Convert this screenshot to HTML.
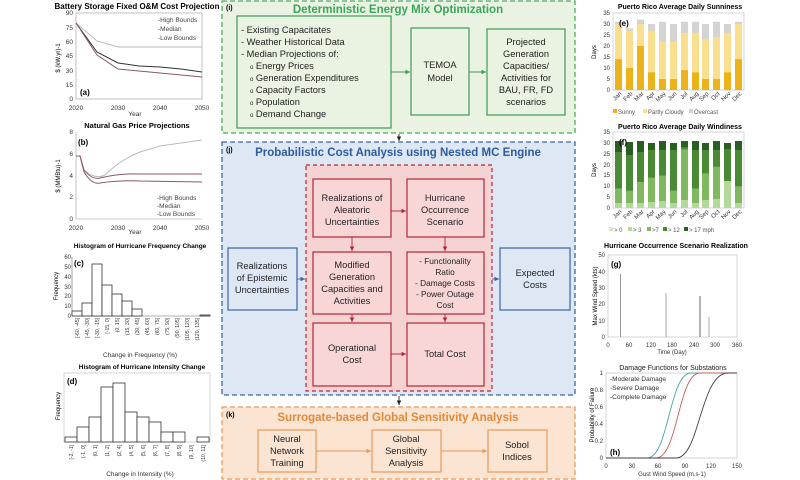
<!DOCTYPE html>
<html><head><meta charset="utf-8"><style>
html,body{margin:0;padding:0;background:#fff}
svg{display:block;font-family:"Liberation Sans",sans-serif}
</style></head><body>
<svg width="800" height="480" viewBox="0 0 800 480" xmlns="http://www.w3.org/2000/svg">
<defs><marker id="ar" markerWidth="6" markerHeight="6" refX="5" refY="3" orient="auto"><path d="M0,0.5 L5,3 L0,5.5z" fill="context-stroke"/></marker></defs>

<!-- (a) -->
<text x="137" y="9" font-size="8" font-weight="bold" text-anchor="middle">Battery Storage Fixed O&amp;M Cost Projection</text>
<rect x="76" y="13" width="126" height="86" fill="none" stroke="#999" stroke-width="0.6"/>
<g font-size="6.5" fill="#333" text-anchor="end"><text x="73" y="15">90</text><text x="73" y="30">75</text><text x="73" y="44">60</text><text x="73" y="58">45</text><text x="73" y="73">30</text><text x="73" y="87">15</text><text x="73" y="101">0</text></g>
<g font-size="6.5" fill="#333" text-anchor="middle"><text x="76" y="110">2020</text><text x="118" y="110">2030</text><text x="160" y="110">2040</text><text x="202" y="110">2050</text><text x="135" y="116">Year</text></g>
<text transform="translate(60,58) rotate(-90)" font-size="6" text-anchor="middle">$ (kW.yr)-1</text>
<polyline points="76,23 97,41 118,47 139,47 160,47 181,47 202,47" fill="none" stroke="#bbb" stroke-width="1"/>
<polyline points="76,23 97,52 118,63 139,66 160,67 181,69 202,72" fill="none" stroke="#333" stroke-width="1"/>
<polyline points="76,23 97,55 118,69 139,71 160,73 181,75 202,77" fill="none" stroke="#8a5a66" stroke-width="1"/>
<g font-size="6.5" fill="#444"><text x="158" y="22">-High Bounds</text><text x="158" y="31">-Median</text><text x="158" y="40">-Low Bounds</text></g>
<text x="80" y="95" font-size="8" font-weight="bold">(a)</text>

<!-- (b) -->
<text x="137" y="128" font-size="7.5" font-weight="bold" text-anchor="middle">Natural Gas Price Projections</text>
<line x1="76" y1="132" x2="76" y2="219" stroke="#999" stroke-width="0.6"/><line x1="76" y1="219" x2="202" y2="219" stroke="#999" stroke-width="0.6"/>
<g font-size="6.5" fill="#333" text-anchor="end"><text x="73" y="134">8</text><text x="73" y="156">6</text><text x="73" y="178">4</text><text x="73" y="199">2</text><text x="73" y="221">0</text></g>
<g font-size="6.5" fill="#333" text-anchor="middle"><text x="76" y="230">2020</text><text x="118" y="230">2030</text><text x="160" y="230">2040</text><text x="202" y="230">2050</text><text x="135" y="234">Year</text></g>
<text transform="translate(60,176) rotate(-90)" font-size="6" text-anchor="middle">$ (MMBtu)-1</text>
<path d="M76,156 L80,156 L84,170 Q95,180 105,175 Q120,160 140,152 L160,146 L202,140" fill="none" stroke="#bbb" stroke-width="1"/>
<path d="M76,156 L80,156 L84,170 Q92,180 100,178 Q120,173 140,174 L202,174" fill="none" stroke="#8a5a66" stroke-width="1"/>
<path d="M76,156 L80,156 L84,172 Q92,185 100,183 Q120,180 140,181 L202,182" fill="none" stroke="#8a5a66" stroke-width="1"/>
<g font-size="6.5" fill="#444"><text x="157" y="200">-High Bounds</text><text x="157" y="208">-Median</text><text x="157" y="216">-Low Bounds</text></g>
<text x="78" y="145" font-size="8" font-weight="bold">(b)</text>

<!-- (c) -->
<text x="140" y="248" font-size="6.5" font-weight="bold" text-anchor="middle">Histogram of Hurricane Frequency Change</text>
<line x1="72" y1="257" x2="72" y2="316" stroke="#666" stroke-width="0.6"/><line x1="72" y1="316" x2="210" y2="316" stroke="#666" stroke-width="0.6"/>
<g font-size="6" fill="#333" text-anchor="end"><text x="71" y="259">60</text><text x="71" y="269">50</text><text x="71" y="279">40</text><text x="71" y="289">30</text><text x="71" y="298">20</text><text x="71" y="308">10</text><text x="71" y="318">0</text></g>
<text transform="translate(58,286) rotate(-90)" font-size="6" text-anchor="middle">Frequency</text>
<g fill="#fff" stroke="#333" stroke-width="0.8"><rect x="72" y="311" width="10" height="5"/><rect x="82" y="303" width="10" height="13"/><rect x="92" y="264" width="10" height="52"/><rect x="102" y="285" width="10" height="31"/><rect x="112" y="294" width="10" height="22"/><rect x="122" y="301" width="10" height="15"/><rect x="132" y="309" width="10" height="7"/><rect x="200" y="315" width="10" height="1"/></g>
<text x="74" y="266" font-size="8" font-weight="bold">(c)</text>
<g font-size="5" fill="#333" text-anchor="end">
<text transform="translate(79,318) rotate(-90)">[-60, -45]</text><text transform="translate(89,318) rotate(-90)">[-45, -30]</text><text transform="translate(99,318) rotate(-90)">[-30, -15]</text><text transform="translate(109,318) rotate(-90)">[-15, 0]</text><text transform="translate(119,318) rotate(-90)">(0, 15]</text><text transform="translate(129,318) rotate(-90)">(15, 30]</text><text transform="translate(139,318) rotate(-90)">(30, 45]</text><text transform="translate(149,318) rotate(-90)">(45, 60]</text><text transform="translate(159,318) rotate(-90)">(60, 75]</text><text transform="translate(169,318) rotate(-90)">(75, 90]</text><text transform="translate(179,318) rotate(-90)">(90, 105]</text><text transform="translate(189,318) rotate(-90)">(105, 120]</text><text transform="translate(199,318) rotate(-90)">(120, 135]</text></g>
<text x="140" y="357" font-size="6.5" text-anchor="middle" fill="#333">Change in Frequency (%)</text>

<!-- (d) -->
<text x="142" y="369" font-size="6.5" font-weight="bold" text-anchor="middle">Histogram of Hurricane Intensity Change</text>
<rect x="64" y="373" width="146" height="69" fill="none" stroke="#aaa" stroke-width="0.5"/>
<text transform="translate(60,406) rotate(-90)" font-size="6" text-anchor="middle">Frequency</text>
<g fill="#fff" stroke="#333" stroke-width="0.8"><rect x="65" y="437" width="12" height="5"/><rect x="77" y="427" width="12" height="15"/><rect x="89" y="417" width="12" height="25"/><rect x="101" y="387" width="12" height="55"/><rect x="113" y="383" width="12" height="59"/><rect x="125" y="412" width="12" height="30"/><rect x="137" y="417" width="12" height="25"/><rect x="149" y="422" width="12" height="20"/><rect x="161" y="432" width="12" height="10"/><rect x="173" y="432" width="12" height="10"/><rect x="197" y="437" width="12" height="5"/></g>
<text x="67" y="384" font-size="8" font-weight="bold">(d)</text>
<g font-size="5" fill="#333" text-anchor="end">
<text transform="translate(73,445) rotate(-90)">[-2, -1]</text><text transform="translate(85,445) rotate(-90)">(-1, 0]</text><text transform="translate(97,445) rotate(-90)">(0, 1]</text><text transform="translate(109,445) rotate(-90)">(1, 2]</text><text transform="translate(121,445) rotate(-90)">(2, 4]</text><text transform="translate(133,445) rotate(-90)">(4, 5]</text><text transform="translate(145,445) rotate(-90)">(5, 6]</text><text transform="translate(157,445) rotate(-90)">(6, 7]</text><text transform="translate(169,445) rotate(-90)">(7, 8]</text><text transform="translate(181,445) rotate(-90)">(8, 9]</text><text transform="translate(193,445) rotate(-90)">(9, 10]</text><text transform="translate(205,445) rotate(-90)">(10, 11]</text></g>
<text x="140" y="476" font-size="6.5" text-anchor="middle" fill="#333">Change in Intensity (%)</text>

<!-- (i) -->
<rect x="222" y="1" width="353" height="132" fill="#eaf3e1" stroke="#4aaa5e" stroke-width="1.3" stroke-dasharray="5,3"/>
<text x="226" y="10" font-size="7" font-weight="bold">(i)</text>
<text x="398" y="13" font-size="11.5" font-weight="bold" fill="#3aa55b" text-anchor="middle">Deterministic Energy Mix Optimization</text>
<g fill="#eaf3e1" stroke="#3e9a55" stroke-width="1.2"><rect x="237" y="16" width="154" height="112"/><rect x="411" y="28" width="58" height="87"/><rect x="487" y="29" width="78" height="86"/></g>
<g font-size="9.3" fill="#222"><text x="241" y="33">-  Existing Capacitates</text><text x="241" y="45">-  Weather Historical Data</text><text x="241" y="57">-  Median Projections of:</text><text x="250" y="69"><tspan font-size="6">o</tspan> Energy Prices</text><text x="250" y="81"><tspan font-size="6">o</tspan> Generation Expenditures</text><text x="250" y="93"><tspan font-size="6">o</tspan> Capacity Factors</text><text x="250" y="105"><tspan font-size="6">o</tspan> Population</text><text x="250" y="117"><tspan font-size="6">o</tspan> Demand Change</text></g>
<g font-size="9.3" fill="#222" text-anchor="middle"><text x="440" y="68">TEMOA</text><text x="440" y="81">Model</text>
<text x="526" y="45">Projected</text><text x="526" y="57">Generation</text><text x="526" y="69">Capacities/</text><text x="526" y="81">Activities for</text><text x="526" y="93">BAU, FR, FD</text><text x="526" y="105">scenarios</text></g>
<g stroke="#3e9a55" stroke-width="0.9"><line x1="391" y1="72" x2="410" y2="72" marker-end="url(#ar)"/><line x1="469" y1="72" x2="486" y2="72" marker-end="url(#ar)"/></g>
<line x1="399" y1="134" x2="399" y2="141" stroke="#222" stroke-width="0.9" marker-end="url(#ar)"/>

<!-- (j) -->
<rect x="222" y="142" width="353" height="253" fill="#dde8f4" stroke="#3e64a0" stroke-width="1.3" stroke-dasharray="5,3"/>
<text x="226" y="152" font-size="7" font-weight="bold">(j)</text>
<text x="398" y="156" font-size="11.5" font-weight="bold" fill="#2f5c9e" text-anchor="middle">Probabilistic Cost Analysis using Nested MC Engine</text>
<rect x="306" y="165" width="186" height="226" fill="#f6d3d3" stroke="#b5243a" stroke-width="1.2" stroke-dasharray="4,3"/>
<g fill="#f9d6d6" stroke="#b5243a" stroke-width="1.2"><rect x="313" y="179" width="78" height="58"/><rect x="407" y="179" width="77" height="58"/><rect x="313" y="252" width="78" height="62"/><rect x="407" y="252" width="77" height="62"/><rect x="313" y="323" width="78" height="63"/><rect x="407" y="323" width="77" height="63"/></g>
<g fill="#dde8f4" stroke="#3e64a0" stroke-width="1.2"><rect x="228" y="248" width="69" height="62"/><rect x="500" y="248" width="70" height="62"/></g>
<g font-size="9.3" fill="#222" text-anchor="middle">
<text x="352" y="201">Realizations of</text><text x="352" y="213">Aleatoric</text><text x="352" y="225">Uncertainties</text>
<text x="445" y="201">Hurricane</text><text x="445" y="213">Occurrence</text><text x="445" y="225">Scenario</text>
<text x="352" y="268">Modified</text><text x="352" y="280">Generation</text><text x="352" y="292">Capacities and</text><text x="352" y="304">Activities</text>
<text x="445" y="264" font-size="8.3">- Functionality</text><text x="445" y="275" font-size="8.3">Ratio</text><text x="445" y="286" font-size="8.3">- Damage Costs</text><text x="445" y="297" font-size="8.3">- Power Outage</text><text x="445" y="308" font-size="8.3">Cost</text>
<text x="352" y="351">Operational</text><text x="352" y="363">Cost</text><text x="445" y="357">Total Cost</text>
<text x="262" y="269">Realizations</text><text x="262" y="281">of Epistemic</text><text x="262" y="293">Uncertainties</text>
<text x="535" y="276">Expected</text><text x="535" y="288">Costs</text></g>
<g stroke="#b5243a" stroke-width="0.9"><line x1="391" y1="211" x2="406" y2="211" marker-end="url(#ar)"/><line x1="391" y1="354" x2="406" y2="354" marker-end="url(#ar)"/><line x1="352" y1="237" x2="352" y2="251" marker-end="url(#ar)"/><line x1="445" y1="237" x2="445" y2="251" marker-end="url(#ar)"/><line x1="352" y1="314" x2="352" y2="322" marker-end="url(#ar)"/><line x1="445" y1="314" x2="445" y2="322" marker-end="url(#ar)"/></g>
<g stroke="#3e64a0" stroke-width="0.9"><line x1="297" y1="279" x2="305" y2="279" marker-end="url(#ar)"/><line x1="492" y1="279" x2="499" y2="279" marker-end="url(#ar)"/></g>
<line x1="399" y1="396" x2="399" y2="405" stroke="#222" stroke-width="0.9" marker-end="url(#ar)"/>

<!-- (k) -->
<rect x="222" y="407" width="353" height="72" fill="#fbe4d2" stroke="#e8995a" stroke-width="1.3" stroke-dasharray="5,3"/>
<text x="226" y="417" font-size="7" font-weight="bold">(k)</text>
<text x="398" y="421" font-size="11.5" font-weight="bold" fill="#e08a3a" text-anchor="middle">Surrogate-based Global Sensitivity Analysis</text>
<g fill="#fbe4d2" stroke="#e8995a" stroke-width="1.2"><rect x="258" y="430" width="58" height="42"/><rect x="372" y="430" width="69" height="42"/><rect x="488" y="430" width="59" height="42"/></g>
<g font-size="9.3" fill="#222" text-anchor="middle"><text x="287" y="442">Neural</text><text x="287" y="454">Network</text><text x="287" y="466">Training</text>
<text x="406" y="442">Global</text><text x="406" y="454">Sensitivity</text><text x="406" y="466">Analysis</text>
<text x="517" y="448">Sobol</text><text x="517" y="460">Indices</text></g>
<g stroke="#e8995a" stroke-width="0.9"><line x1="316" y1="451" x2="371" y2="451" marker-end="url(#ar)"/><line x1="441" y1="451" x2="487" y2="451" marker-end="url(#ar)"/></g>

<!-- (e) -->
<text x="680" y="9" font-size="7" font-weight="bold" text-anchor="middle">Puerto Rico Average Daily Sunniness</text>
<rect x="613" y="13" width="131" height="77" fill="none" stroke="#aaa" stroke-width="0.5"/>
<g font-size="6" fill="#333" text-anchor="end"><text x="610" y="15">35</text><text x="610" y="26">30</text><text x="610" y="37">25</text><text x="610" y="48">20</text><text x="610" y="59">15</text><text x="610" y="70">10</text><text x="610" y="81">5</text><text x="610" y="92">0</text></g>
<text transform="translate(596,52) rotate(-90)" font-size="6" text-anchor="middle">Days</text>
<g fill="#d3d3d3"><rect x="615" y="21.8" width="7" height="68.2"/><rect x="626" y="28.4" width="7" height="61.6"/><rect x="637" y="19.6" width="7" height="70.4"/><rect x="648" y="24" width="7" height="66"/><rect x="659" y="21.8" width="7" height="68.2"/><rect x="670" y="24" width="7" height="66"/><rect x="681" y="21.8" width="7" height="68.2"/><rect x="692" y="21.8" width="7" height="68.2"/><rect x="702" y="24" width="7" height="66"/><rect x="713" y="21.8" width="7" height="68.2"/><rect x="724" y="24" width="7" height="66"/><rect x="735" y="21.8" width="7" height="68.2"/></g>
<g fill="#f9df8e"><rect x="615" y="24" width="7" height="66"/><rect x="626" y="30.6" width="7" height="59.4"/><rect x="637" y="24" width="7" height="66"/><rect x="648" y="30.6" width="7" height="59.4"/><rect x="659" y="41.6" width="7" height="48.4"/><rect x="670" y="41.6" width="7" height="48.4"/><rect x="681" y="32.8" width="7" height="57.2"/><rect x="692" y="32.8" width="7" height="57.2"/><rect x="702" y="39.4" width="7" height="50.6"/><rect x="713" y="37.2" width="7" height="52.8"/><rect x="724" y="32.8" width="7" height="57.2"/><rect x="735" y="24" width="7" height="66"/></g>
<g fill="#ecb21a"><rect x="615" y="59.2" width="7" height="30.8"/><rect x="626" y="68" width="7" height="22"/><rect x="637" y="46" width="7" height="44"/><rect x="648" y="72.4" width="7" height="17.6"/><rect x="659" y="79" width="7" height="11"/><rect x="670" y="79" width="7" height="11"/><rect x="681" y="70.2" width="7" height="19.8"/><rect x="692" y="72.4" width="7" height="17.6"/><rect x="702" y="79" width="7" height="11"/><rect x="713" y="79" width="7" height="11"/><rect x="724" y="72.4" width="7" height="17.6"/><rect x="735" y="59.2" width="7" height="30.8"/></g>
<text x="619" y="26" font-size="8" font-weight="bold">(e)</text>
<g font-size="6" fill="#333" text-anchor="end"><text transform="translate(622,94) rotate(-45)">Jan</text><text transform="translate(633,94) rotate(-45)">Feb</text><text transform="translate(644,94) rotate(-45)">Mar</text><text transform="translate(655,94) rotate(-45)">Apr</text><text transform="translate(666,94) rotate(-45)">May</text><text transform="translate(677,94) rotate(-45)">Jun</text><text transform="translate(688,94) rotate(-45)">Jul</text><text transform="translate(699,94) rotate(-45)">Aug</text><text transform="translate(709,94) rotate(-45)">Sep</text><text transform="translate(720,94) rotate(-45)">Oct</text><text transform="translate(731,94) rotate(-45)">Nov</text><text transform="translate(742,94) rotate(-45)">Dec</text></g>
<g font-size="6" fill="#555"><rect x="613" y="109" width="4" height="4" fill="#ecb21a"/><text x="618" y="114">Sunny</text><rect x="643" y="109" width="4" height="4" fill="#f9df8e"/><text x="648" y="114">Partly Cloudy</text><rect x="689" y="109" width="4" height="4" fill="#d3d3d3"/><text x="694" y="114">Overcast</text></g>

<!-- (f) -->
<text x="680" y="129" font-size="7" font-weight="bold" text-anchor="middle">Puerto Rico Average Daily Windiness</text>
<rect x="613" y="132" width="131" height="76" fill="none" stroke="#aaa" stroke-width="0.5"/>
<g font-size="6" fill="#333" text-anchor="end"><text x="610" y="134">35</text><text x="610" y="145">30</text><text x="610" y="156">25</text><text x="610" y="167">20</text><text x="610" y="177">15</text><text x="610" y="188">10</text><text x="610" y="199">5</text><text x="610" y="210">0</text></g>
<text transform="translate(596,170) rotate(-90)" font-size="6" text-anchor="middle">Days</text>
<g fill="#2b5e22"><rect x="615" y="141" width="7" height="67"/><rect x="626" y="142" width="7" height="66"/><rect x="637" y="141" width="7" height="67"/><rect x="648" y="143" width="7" height="65"/><rect x="659" y="141" width="7" height="67"/><rect x="670" y="143" width="7" height="65"/><rect x="681" y="141" width="7" height="67"/><rect x="692" y="141" width="7" height="67"/><rect x="702" y="143" width="7" height="65"/><rect x="713" y="141" width="7" height="67"/><rect x="724" y="143" width="7" height="65"/><rect x="735" y="141" width="7" height="67"/></g>
<g fill="#4a8a35"><rect x="615" y="152" width="7" height="56"/><rect x="626" y="155" width="7" height="53"/><rect x="637" y="152" width="7" height="56"/><rect x="648" y="150" width="7" height="58"/><rect x="659" y="150" width="7" height="58"/><rect x="670" y="150" width="7" height="58"/><rect x="681" y="147" width="7" height="61"/><rect x="692" y="150" width="7" height="58"/><rect x="702" y="150" width="7" height="58"/><rect x="713" y="150" width="7" height="58"/><rect x="724" y="149" width="7" height="59"/><rect x="735" y="150" width="7" height="58"/></g>
<g fill="#7fb85e"><rect x="615" y="188.5" width="7" height="19.5"/><rect x="626" y="190.6" width="7" height="17.4"/><rect x="637" y="182" width="7" height="26"/><rect x="648" y="177.6" width="7" height="30.4"/><rect x="659" y="175.5" width="7" height="32.5"/><rect x="670" y="190.6" width="7" height="17.4"/><rect x="681" y="149.4" width="7" height="58.6"/><rect x="692" y="188.5" width="7" height="19.5"/><rect x="702" y="173.3" width="7" height="34.7"/><rect x="713" y="166.8" width="7" height="41.2"/><rect x="724" y="182" width="7" height="26"/><rect x="735" y="186.3" width="7" height="21.7"/></g>
<g fill="#b4d79a"><rect x="615" y="203" width="7" height="5"/><rect x="626" y="203" width="7" height="5"/><rect x="637" y="203" width="7" height="5"/><rect x="648" y="202" width="7" height="6"/><rect x="659" y="201" width="7" height="7"/><rect x="670" y="203" width="7" height="5"/><rect x="681" y="200" width="7" height="8"/><rect x="692" y="203" width="7" height="5"/><rect x="702" y="200" width="7" height="8"/><rect x="713" y="199" width="7" height="9"/><rect x="724" y="181" width="7" height="27"/><rect x="735" y="203" width="7" height="5"/></g>
<text x="619" y="145" font-size="8" font-weight="bold">(f)</text>
<g font-size="6" fill="#333" text-anchor="end"><text transform="translate(622,212) rotate(-45)">Jan</text><text transform="translate(633,212) rotate(-45)">Feb</text><text transform="translate(644,212) rotate(-45)">Mar</text><text transform="translate(655,212) rotate(-45)">Apr</text><text transform="translate(666,212) rotate(-45)">May</text><text transform="translate(677,212) rotate(-45)">Jun</text><text transform="translate(688,212) rotate(-45)">Jul</text><text transform="translate(699,212) rotate(-45)">Aug</text><text transform="translate(709,212) rotate(-45)">Sep</text><text transform="translate(720,212) rotate(-45)">Oct</text><text transform="translate(731,212) rotate(-45)">Nov</text><text transform="translate(742,212) rotate(-45)">Dec</text></g>
<g font-size="6" fill="#555"><rect x="609" y="227" width="4" height="4" fill="#d4e8c4"/><text x="614" y="232">&gt; 0</text><rect x="628" y="227" width="4" height="4" fill="#b4d79a"/><text x="633" y="232">&gt; 3</text><rect x="647" y="227" width="4" height="4" fill="#7fb85e"/><text x="652" y="232">&gt;7</text><rect x="663" y="227" width="4" height="4" fill="#4a8a35"/><text x="668" y="232">&gt; 12</text><rect x="684" y="227" width="4" height="4" fill="#2b5e22"/><text x="689" y="232">&gt; 17 mph</text></g>

<!-- (g) -->
<text x="676" y="248" font-size="7" font-weight="bold" text-anchor="middle">Hurricane Occurrence Scenario Realization</text>
<rect x="608" y="255" width="129" height="82" fill="none" stroke="#aaa" stroke-width="0.5"/>
<g font-size="6" fill="#333" text-anchor="end"><text x="605" y="257">50</text><text x="605" y="274">40</text><text x="605" y="290">30</text><text x="605" y="306">20</text><text x="605" y="323">10</text><text x="605" y="339">0</text></g>
<g font-size="6" fill="#333" text-anchor="middle"><text x="608" y="347">0</text><text x="629" y="347">60</text><text x="651" y="347">120</text><text x="672" y="347">180</text><text x="694" y="347">240</text><text x="715" y="347">300</text><text x="737" y="347">360</text><text x="672" y="354">Time (Day)</text></g>
<text transform="translate(597,296) rotate(-90)" font-size="6" text-anchor="middle">Max Wind Speed (kts)</text>
<g stroke-width="1"><line x1="620.5" y1="337" x2="620.5" y2="274" stroke="#999"/><line x1="666" y1="337" x2="666" y2="293" stroke="#aaa"/><line x1="700" y1="337" x2="700" y2="296" stroke="#666"/><line x1="709" y1="337" x2="709" y2="317" stroke="#aaa"/></g>
<text x="611" y="267" font-size="8" font-weight="bold">(g)</text>

<!-- (h) -->
<text x="673" y="370" font-size="7" text-anchor="middle" fill="#222">Damage Functions for Substations</text>
<rect x="606" y="373" width="131" height="85" fill="none" stroke="#aaa" stroke-width="0.5"/>
<g font-size="6" fill="#333" text-anchor="end"><text x="603" y="375">1</text><text x="603" y="392">0.8</text><text x="603" y="409">0.6</text><text x="603" y="426">0.4</text><text x="603" y="443">0.2</text><text x="603" y="460">0</text></g>
<g font-size="6" fill="#333" text-anchor="middle"><text x="606" y="468">0</text><text x="632" y="468">30</text><text x="658" y="468">60</text><text x="685" y="468">90</text><text x="711" y="468">120</text><text x="737" y="468">150</text><text x="672" y="476">Gust Wind Speed (m.s-1)</text></g>
<text transform="translate(594,415) rotate(-90)" font-size="6" text-anchor="middle">Probability of Failure</text>
<path d="M606,458 L647,458 C669,458 669,373 691,373 L737,373" fill="none" stroke="#4aa7a0" stroke-width="0.9"/>
<path d="M606,458 L656,458 C678,458 678,373 700,373 L737,373" fill="none" stroke="#c0605a" stroke-width="0.9"/>
<path d="M606,458 L676,458 C700,458 700,373 728,373 L737,373" fill="none" stroke="#4a3a4a" stroke-width="0.9"/>
<g font-size="6.5" fill="#333"><text x="610" y="381">-Moderate Damage</text><text x="610" y="390">-Severe Damage</text><text x="610" y="399">-Complete Damage</text></g>
<text x="610" y="455" font-size="8" font-weight="bold">(h)</text>
</svg>
</body></html>
